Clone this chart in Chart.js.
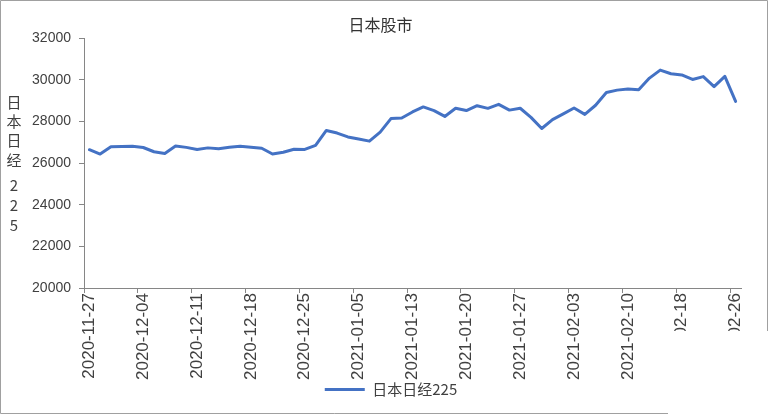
<!DOCTYPE html>
<html><head><meta charset="utf-8">
<script src="https://cdn.jsdelivr.net/npm/chart.js@4"></script>
<style>html,body{margin:0;padding:0;background:#fff}#wrap{width:768px;height:414px;position:relative}</style>
</head><body><div id="wrap"><canvas id="c" width="768" height="414"></canvas></div>
<script>
const titleText = '日本股市';
const seriesName = '日本日经225';
const yTitleChars = ['日','本','日','经','2','2','5'];
const dates = [
 '2020-11-27','2020-11-30','2020-12-01','2020-12-02','2020-12-03','2020-12-04','2020-12-07','2020-12-08','2020-12-09','2020-12-10',
 '2020-12-11','2020-12-14','2020-12-15','2020-12-16','2020-12-17','2020-12-18','2020-12-21','2020-12-22','2020-12-23','2020-12-24',
 '2020-12-25','2020-12-28','2020-12-29','2020-12-30','2021-01-04','2021-01-05','2021-01-06','2021-01-07','2021-01-08','2021-01-12',
 '2021-01-13','2021-01-14','2021-01-15','2021-01-18','2021-01-19','2021-01-20','2021-01-21','2021-01-22','2021-01-25','2021-01-26',
 '2021-01-27','2021-01-28','2021-01-29','2021-02-01','2021-02-02','2021-02-03','2021-02-04','2021-02-05','2021-02-08','2021-02-09',
 '2021-02-10','2021-02-12','2021-02-15','2021-02-16','2021-02-17','2021-02-18','2021-02-19','2021-02-22','2021-02-24','2021-02-25',
 '2021-02-26'
];
const nikkei = [
 26645,26434,26788,26801,26809,26751,26547,26467,26818,26756,
 26653,26732,26688,26757,26807,26763,26714,26436,26525,26668,
 26657,26854,27568,27444,27258,27159,27056,27490,28139,28164,
 28457,28698,28519,28242,28633,28523,28757,28631,28822,28546,
 28635,28197,27663,28091,28362,28647,28342,28779,29389,29506,
 29563,29520,30084,30468,30292,30236,30018,30156,29672,30168,
 28966
];
const yMin = 20000, yMax = 32000, yStep = 2000;

const axisGrey = '#868686';
const textCol = '#404040';
const sansFont = "'Liberation Sans', 'Noto Sans CJK SC', sans-serif";
const cjkFont = "'Noto Sans CJK SC', 'Liberation Sans', sans-serif";

const decor = {
  id: 'decor',
  afterLayout(chart) {
    // Excel centres the legend a little right of the canvas centre
    if (chart.legend) { chart.legend.left += 21; }
  },
  afterDraw(chart) {
    const ctx = chart.ctx;
    ctx.save();
    // Excel left the lower-right corner unpainted
    ctx.fillStyle = '#fff';
    ctx.fillRect(668, 331, 100, 83);
    // outer frame
    ctx.strokeStyle = '#a0a0a0';
    ctx.lineWidth = 1;
    ctx.beginPath();
    ctx.moveTo(668, 413.5); ctx.lineTo(0.5, 413.5); ctx.lineTo(0.5, 0.5);
    ctx.lineTo(767.5, 0.5); ctx.lineTo(767.5, 331);
    ctx.stroke();
    // stacked vertical y-axis title
    const ys = [102, 121, 140, 160, 185, 205, 225];
    ctx.fillStyle = textCol;
    ctx.font = "15px " + cjkFont;
    ctx.textAlign = 'center';
    ctx.textBaseline = 'middle';
    yTitleChars.forEach((ch, i) => ctx.fillText(ch, 14, ys[i]));
    ctx.restore();
  }
};

new Chart(document.getElementById('c'), {
  type: 'line',
  data: {
    labels: dates,
    datasets: [{
      label: seriesName,
      data: nikkei,
      borderColor: '#4472C4',
      backgroundColor: '#4472C4',
      borderWidth: 3,
      pointRadius: 0,
      tension: 0,
      borderJoinStyle: 'round',
      borderCapStyle: 'round'
    }]
  },
  options: {
    responsive: false,
    animation: false,
    devicePixelRatio: 1,
    layout: { padding: { left: 20, right: 27, top: 0, bottom: 7 } },
    plugins: {
      title: {
        display: true, text: titleText, color: '#333',
        font: { family: cjkFont, size: 16, weight: 'normal' },
        padding: { top: 15, bottom: 4 }
      },
      legend: {
        position: 'bottom',
        labels: {
          usePointStyle: true, pointStyle: 'line', pointStyleWidth: 40,
          color: textCol, padding: 2,
          font: { family: cjkFont, size: 15 }
        }
      },
      tooltip: { enabled: false }
    },
    scales: {
      x: {
        offset: true,
        grid: {
          display: true, drawOnChartArea: false, offset: true, tickLength: 5,
          tickColor: c => (c.index !== undefined && c.index % 5 === 0) ? axisGrey : 'rgba(0,0,0,0)'
        },
        border: { color: axisGrey },
        ticks: {
          autoSkip: false, maxRotation: 90, minRotation: 90, padding: 0,
          color: textCol, font: { family: sansFont, size: 17 },
          callback: (v, i) => i % 5 === 0 ? dates[i] : ''
        }
      },
      y: {
        min: yMin, max: yMax,
        afterFit: s => { s.width = 64; },
        grid: { display: true, drawOnChartArea: false, tickLength: 5, color: axisGrey },
        border: { color: axisGrey },
        ticks: {
          stepSize: yStep, padding: 8, color: textCol,
          font: { family: sansFont, size: 14 },
          callback: v => String(v)
        }
      }
    }
  },
  plugins: [decor]
});
</script></body></html>
